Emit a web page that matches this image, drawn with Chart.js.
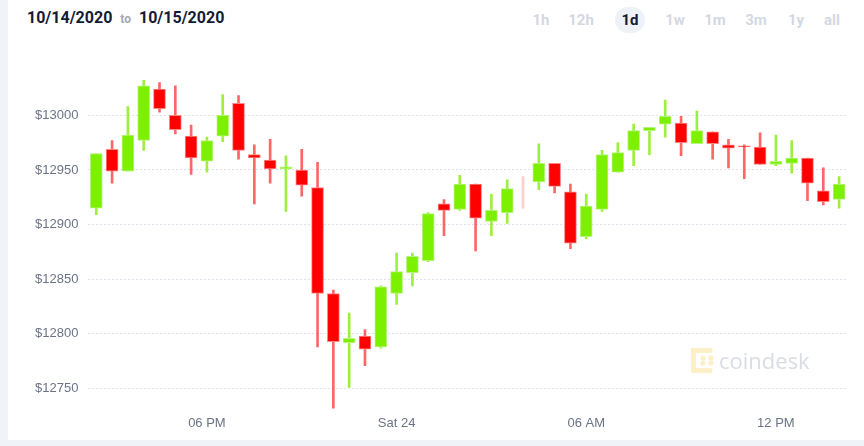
<!DOCTYPE html>
<html>
<head>
<meta charset="utf-8">
<script src="https://cdn.jsdelivr.net/npm/chart.js@4/dist/chart.umd.min.js"></script>
<style>
  html, body { margin: 0; padding: 0; }
  body { width: 864px; height: 446px; background: #f0f3f8; position: relative; overflow: hidden; font-family: "Roboto", "Liberation Sans", sans-serif; }
  #card { position: absolute; left: 8px; top: 0; width: 856px; height: 440px; background: #fff; }
  #range { position: absolute; left: 19px; top: 8px; font-size: 16px; font-weight: 700; color: #161a33; }
  #range span { font-size: 12px; font-weight: 700; color: #a3a8b6; margin: 0 8px; }
  .btn { position: absolute; top: 7px; height: 26px; line-height: 26px; font-size: 15px; font-weight: 700; color: #d4d8e3; text-align: center; width: 32px; margin-left: -16px; }
  .btn.on { color: #161a33; background: #eef1f8; border-radius: 13px; width: 30px; margin-left: -15px; }
  #wrap { position: absolute; left: 0; top: 44px; width: 856px; height: 396px; }
</style>
</head>
<body>
<div id="card">
  <div id="range">10/14/2020<span>to</span>10/15/2020</div>
  <div class="btn" style="left:533px">1h</div>
  <div class="btn" style="left:573px">12h</div>
  <div class="btn on" style="left:622px">1d</div>
  <div class="btn" style="left:667px">1w</div>
  <div class="btn" style="left:707px">1m</div>
  <div class="btn" style="left:748px">3m</div>
  <div class="btn" style="left:788px">1y</div>
  <div class="btn" style="left:824px">all</div>
  <div id="wrap"><canvas id="grafico"></canvas></div>
</div>
<script>
// velas de 30 minutos
const horarios = ["14:30","15:00","15:30","16:00","16:30","17:00","17:30","18:00",
  "18:30","19:00","19:30","20:00","20:30","21:00","21:30","22:00","22:30","23:00","23:30",
  "00:00","00:30","01:00","01:30","02:00","02:30","03:00","03:30","04:00","04:30","05:00","05:30",
  "06:00","06:30","07:00","07:30","08:00","08:30","09:00","09:30","10:00","10:30","11:00","11:30",
  "12:00","12:30","13:00","13:30","14:00"];

const abertura = [12915,12969,12949,12977,13024,13000,12981,12958,12981,13011,12964,12959,12951,12950,12934,12837,
  12792,12798,12788,12837,12856,12867,12919,12914,12937,12903,12911,12937,12939,12956,12930,12889,
  12914,12948,12968,12986,12992,12993,12974,12985,12973,12972,12971,12955,12956,12961,12931,12923];
const maxima = [12965,12977,13008,13032,13030,13027,12991,12980,13019,13018,12973,12978,12963,12969,12957,12840,
  12819,12804,12844,12874,12874,12911,12923,12945,12937,12928,12941,12944,12974,12956,12937,12928,
  12968,12975,12992,12989,13014,12999,13004,12985,12978,12973,12984,12982,12977,12961,12952,12944];
const minima = [12909,12938,12949,12968,13003,12983,12946,12948,12976,12960,12919,12938,12912,12926,12788,12732,
  12751,12771,12787,12827,12844,12866,12890,12913,12876,12890,12901,12915,12932,12929,12878,12887,
  12912,12948,12954,12964,12980,12963,12974,12960,12952,12942,12955,12954,12947,12922,12918,12915];
const fechamento = [12965,12949,12982,13027,13006,12987,12961,12977,13000,12968,12961,12951,12953,12936,12837,12793,
  12796,12786,12843,12857,12871,12910,12913,12937,12906,12913,12933,12937,12956,12935,12883,12917,
  12964,12966,12986,12989,12999,12975,12986,12974,12970,12971,12955,12958,12961,12938,12921,12937];

const horasMarcadas = ["18:00","00:00","06:00","12:00"];
const rotulosMarcados = ["06 PM","Sat 24","06 AM","12 PM"];

const verde = "#7df000", vermelho = "#ff0000";

function corVela(i, tipo) {
  if (fechamento[i] > abertura[i]) return tipo === "borda" ? "#b6f57c" : tipo === "pavio" ? "rgba(125,235,0,0.75)" : verde;
  if (fechamento[i] < abertura[i]) return tipo === "borda" ? "#ff8585" : tipo === "pavio" ? "rgba(255,0,0,0.6)" : vermelho;
  return "rgba(255,90,90,0.3)";
}

// marca d'agua coindesk
const marcaDagua = {
  id: "marcaDagua",
  beforeDatasetsDraw(chart) {
    const ctx = chart.ctx;
    ctx.save();
    ctx.fillStyle = "#fdf0c6";
    const x0 = 683, y0 = 304;
    ctx.fillRect(x0, y0 + 3, 5, 19);
    ctx.fillRect(x0, y0, 19, 5);
    ctx.fillRect(x0, y0 + 20, 19, 5);
    [[x0 + 19, y0 + 2.5], [x0 + 19, y0 + 22.5], [x0 + 12, y0 + 10], [x0 + 12, y0 + 15], [x0 + 20, y0 + 10], [x0 + 20, y0 + 15]].forEach(([x, y]) => {
      ctx.beginPath();
      ctx.arc(x, y, 2.6, 0, Math.PI * 2);
      ctx.fill();
    });
    ctx.fillStyle = "#d9dce2";
    ctx.font = "22px 'Open Sans', sans-serif";
    ctx.textBaseline = "alphabetic";
    ctx.fillText("coindesk", 711, 325);
    ctx.restore();
  }
};

new Chart(document.getElementById("grafico"), {
  type: "bar",
  data: {
    labels: horarios,
    datasets: [
      {
        data: horarios.map((h, i) => [abertura[i], fechamento[i]]),
        backgroundColor: horarios.map((h, i) => corVela(i, "corpo")),
        borderColor: horarios.map((h, i) => corVela(i, "borda")),
        borderWidth: 1,
        borderSkipped: false,
        barThickness: 12,
        grouped: false,
        order: 1
      },
      {
        data: horarios.map((h, i) => [minima[i], maxima[i]]),
        backgroundColor: horarios.map((h, i) => corVela(i, "pavio")),
        borderWidth: 0,
        barThickness: 2,
        grouped: false,
        order: 2
      }
    ]
  },
  plugins: [marcaDagua],
  options: {
    responsive: true,
    maintainAspectRatio: false,
    animation: false,
    layout: { padding: { left: 17, right: 17, top: 16, bottom: 4 } },
    plugins: {
      legend: { display: false },
      tooltip: { enabled: false }
    },
    scales: {
      x: {
        offset: true,
        grid: { display: false, drawTicks: false },
        border: { display: false },
        ticks: {
          autoSkip: false,
          maxRotation: 0,
          padding: 5,
          color: "#6b7386",
          font: { family: "'Liberation Sans', Arial, sans-serif", size: 13 },
          callback: function (valor, indice) {
            const k = horasMarcadas.indexOf(horarios[indice]);
            return k >= 0 ? rotulosMarcados[k] : "";
          }
        }
      },
      y: {
        min: 12730,
        max: 13049,
        afterBuildTicks: (eixo) => {
          eixo.ticks = eixo.ticks.filter((t) => t.value % 50 === 0);
        },
        grid: { color: "#dde2ec", lineWidth: 1, drawTicks: false },
        border: { display: false, dash: [2, 2] },
        ticks: {
          stepSize: 50,
          padding: 10,
          color: "#6b7386",
          font: { family: "'Liberation Sans', Arial, sans-serif", size: 13 },
          callback: (v) => "$" + v
        }
      }
    }
  }
});
</script>
</body>
</html>
